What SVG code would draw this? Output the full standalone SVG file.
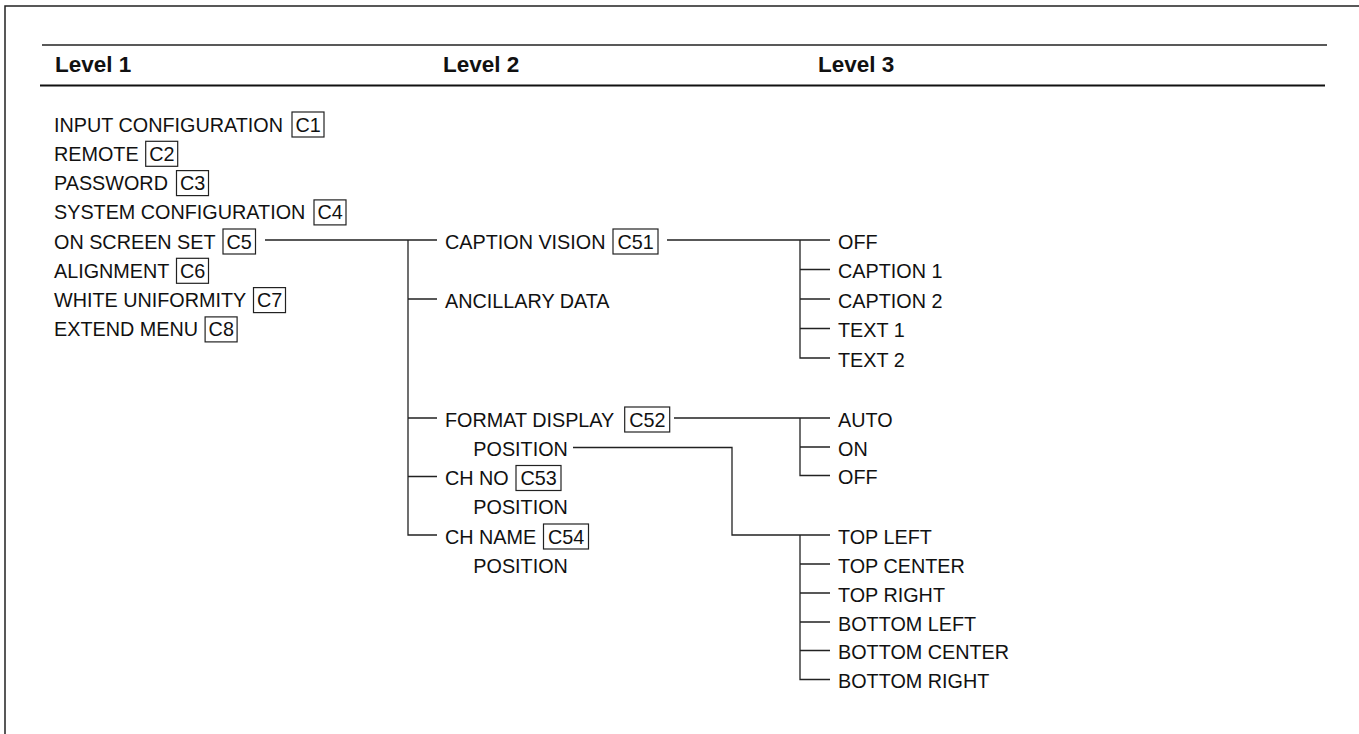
<svg xmlns="http://www.w3.org/2000/svg" width="1359" height="734" viewBox="0 0 1359 734">
<style>
text{font-family:"Liberation Sans",Arial,sans-serif;font-size:19.8px;fill:#111}
.h{font-weight:bold;font-size:22.5px}
.box{fill:none;stroke:#222;stroke-width:1.2}
.ln{fill:none;stroke:#222;stroke-width:1.3}
</style>
<rect width="1359" height="734" fill="#fff"/>
<path d="M5,734 V6 H1359" fill="none" stroke="#222" stroke-width="1.5"/>
<g id="header">
<line x1="42" y1="45" x2="1327" y2="45" stroke="#222" stroke-width="1.5"/>
<line x1="40" y1="85.5" x2="1325" y2="85.5" stroke="#111" stroke-width="2.2"/>
<text class="h" x="55" y="72">Level 1</text>
<text class="h" x="443" y="72">Level 2</text>
<text class="h" x="818" y="72">Level 3</text>
</g>
<g id="level1">
<g id="n-c1"><text x="54" y="131.5">INPUT CONFIGURATION</text><rect class="box" x="292" y="112" width="32" height="25"/><text x="295.5" y="131.5">C1</text></g>
<g id="n-c2"><text x="54" y="160.8">REMOTE</text><rect class="box" x="145.7" y="141.3" width="32" height="25"/><text x="149.2" y="160.8">C2</text></g>
<g id="n-c3"><text x="54" y="190.1">PASSWORD</text><rect class="box" x="176.5" y="170.6" width="32" height="25"/><text x="180" y="190.1">C3</text></g>
<g id="n-c4"><text x="54" y="219.4">SYSTEM CONFIGURATION</text><rect class="box" x="314" y="199.9" width="32" height="25"/><text x="317.5" y="219.4">C4</text></g>
<g id="n-c5"><text x="54" y="248.5">ON SCREEN SET</text><rect class="box" x="223" y="229" width="32.5" height="25"/><text x="226.5" y="248.5">C5</text></g>
<g id="n-c6"><text x="54" y="277.8">ALIGNMENT</text><rect class="box" x="176.5" y="258.3" width="32" height="25"/><text x="180" y="277.8">C6</text></g>
<g id="n-c7"><text x="54" y="307.1">WHITE UNIFORMITY</text><rect class="box" x="253.5" y="287.6" width="32" height="25"/><text x="257" y="307.1">C7</text></g>
<g id="n-c8"><text x="54" y="336.4">EXTEND MENU</text><rect class="box" x="205.1" y="316.9" width="32" height="25"/><text x="208.6" y="336.4">C8</text></g>
</g>
<g id="level2">
<g id="n-c51"><text x="445" y="248.5">CAPTION VISION</text><rect class="box" x="613" y="229" width="45" height="25"/><text x="617.5" y="248.5">C51</text></g>
<g id="n-anc"><text x="445" y="307.5">ANCILLARY DATA</text></g>
<g id="n-c52"><text x="445" y="426.5">FORMAT DISPLAY</text><rect class="box" x="624.7" y="407" width="45" height="25"/><text x="629.2" y="426.5">C52</text><text x="473.3" y="456">POSITION</text></g>
<g id="n-c53"><text x="445" y="485">CH NO</text><rect class="box" x="516" y="465.5" width="45" height="25"/><text x="520.5" y="485">C53</text><text x="473.3" y="514">POSITION</text></g>
<g id="n-c54"><text x="445" y="543.5">CH NAME</text><rect class="box" x="543.5" y="524" width="45" height="25"/><text x="548" y="543.5">C54</text><text x="473.3" y="572.5">POSITION</text></g>
</g>
<g id="level3">
<g id="n-off1"><text x="838" y="248.5">OFF</text></g>
<g id="n-cap1"><text x="838" y="278">CAPTION 1</text></g>
<g id="n-cap2"><text x="838" y="307.5">CAPTION 2</text></g>
<g id="n-text1"><text x="838" y="337">TEXT 1</text></g>
<g id="n-text2"><text x="838" y="366.5">TEXT 2</text></g>
<g id="n-auto"><text x="838" y="426.5">AUTO</text></g>
<g id="n-on"><text x="838" y="455.5">ON</text></g>
<g id="n-off2"><text x="838" y="484">OFF</text></g>
<g id="n-tl"><text x="838" y="543.5">TOP LEFT</text></g>
<g id="n-tc"><text x="838" y="572.5">TOP CENTER</text></g>
<g id="n-tr"><text x="838" y="601.5">TOP RIGHT</text></g>
<g id="n-bl"><text x="838" y="630.5">BOTTOM LEFT</text></g>
<g id="n-bc"><text x="838" y="659">BOTTOM CENTER</text></g>
<g id="n-br"><text x="838" y="688">BOTTOM RIGHT</text></g>
</g>
<g id="connectors" class="ln">
<path d="M265,240 H437 M408,240 V535 H437 M408,299 H437 M408,418 H437 M408,476.5 H437"/>
<path d="M667,240 H830 M800,240 V358 H830 M800,269.5 H830 M800,299 H830 M800,328.5 H830"/>
<path d="M674,418 H830 M800,418 V475.5 H830 M800,447 H830"/>
<path d="M573,447.5 H732 V535 H830 M800,535 V679.5 H830 M800,564 H830 M800,593 H830 M800,622 H830 M800,650.5 H830"/>
</g>
</svg>
